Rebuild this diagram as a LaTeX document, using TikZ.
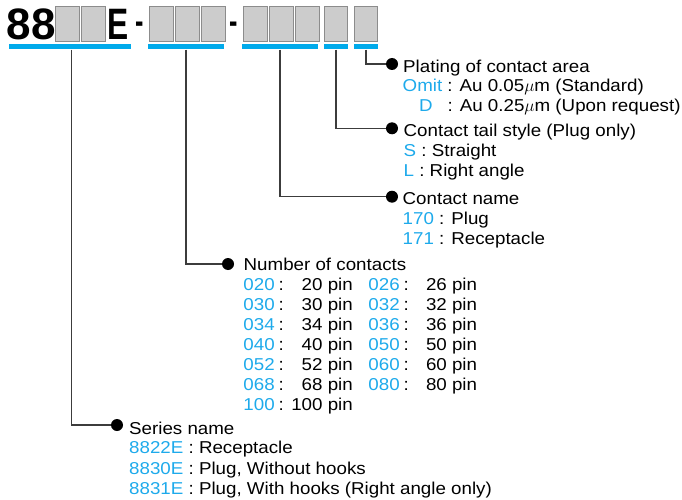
\documentclass[tikz,border=0pt]{standalone}
\usepackage{fontspec}
\setmainfont{Liberation Sans}[FakeStretch=1.09]
\newfontfamily\titlefont{Liberation Sans}
\usetikzlibrary{positioning}
\definecolor{codeblue}{RGB}{30,170,235}
\definecolor{barblue}{RGB}{0,170,235}
\definecolor{keygray}{RGB}{204,204,204}
\definecolor{keyedge}{RGB}{140,140,140}
\definecolor{leadgray}{RGB}{60,60,60}
\newcommand{\code}[1]{\textcolor{codeblue}{#1}}
\tikzset{
  keybox/.style={rectangle, fill=keygray, draw=keyedge, line width=0.8pt, minimum width=23.5pt, minimum height=35pt, inner sep=0pt,
    path picture={\draw[white, line width=1.2pt] (path picture bounding box.south west) |- (path picture bounding box.north east);}},
  bluebar/.style={rectangle, fill=barblue, minimum height=5pt, inner sep=0pt},
  lead/.style={leadgray, line width=1.2pt},
  bullet/.style={circle, fill=black, minimum size=12pt, inner sep=0pt},
  txt/.style={anchor=base west, inner sep=0pt, font=\fontsize{17.2}{20}\selectfont},
  bigtxt/.style={inner sep=0pt, font=\titlefont\bfseries\fontsize{44}{44}\selectfont},
}
\begin{document}
\begin{tikzpicture}[x=1pt, y=-1pt]
    \useasboundingbox (0,0) rectangle (682,500);
    % part number
    \node[bigtxt, anchor=base west] (num) at (6.5,40) {88};
    \node[keybox] (k1) at (67.5,24) {};
    \node[keybox, right=1.7pt of k1] (k2) {};
    \node[bigtxt, anchor=base west] (ser) at (107.7,40) {\scalebox{0.72}[1]{E}};
    \node[bigtxt, anchor=base, font=\titlefont\bfseries\fontsize{36}{36}\selectfont] (dash1) at (140,33.4) {\scalebox{0.7}[1]{-}};
    \node[keybox] (k3) at (161.5,24) {};
    \node[keybox, right=1.7pt of k3] (k4) {};
    \node[keybox, right=1.7pt of k4] (k5) {};
    \node[bigtxt, anchor=base, font=\titlefont\bfseries\fontsize{36}{36}\selectfont] (dash2) at (234,33.4) {\scalebox{0.7}[1]{-}};
    \node[keybox] (k6) at (255.5,24) {};
    \node[keybox, right=1.7pt of k6] (k7) {};
    \node[keybox, right=1.7pt of k7] (k8) {};
    \node[keybox] (k9) at (336,24) {};
    \node[keybox] (k10) at (366,24) {};

    \node[bluebar, minimum width=122pt] (bar1) at (70,47) {};
    \node[bluebar, minimum width=76pt] (bar2) at (186,47) {};
    \node[bluebar, minimum width=76pt] (bar3) at (280,47) {};
    \node[bluebar, minimum width=24pt] (bar4) at (336,47) {};
    \node[bluebar, minimum width=24pt] (bar5) at (366,47) {};

    % leads
    \node[bullet] (d5) at (392,64) {};
    \node[bullet] (d4) at (392,128.3) {};
    \node[bullet] (d3) at (392,196.7) {};
    \node[bullet] (d2) at (228,264) {};
    \node[bullet] (d1) at (117,425) {};
    \draw[lead] (bar5.south) |- (d5);
    \draw[lead] (bar4.south) |- (d4);
    \draw[lead] (bar3.south) |- (d3);
    \draw[lead] (bar2.south) |- (d2);
    \draw[lead] ([xshift=1.5pt]bar1.south) |- (d1);

    % plating
    \node[txt] (plating) at (403,72.3) {Plating of contact area};
    \node[txt] (omit) at (402.5,91.7) {\code{Omit} : Au 0.05$\mu$m (Standard)};
    \node[txt] (platD) at (419,111.7) {\code{D}};
    \node[txt] (platDtxt) at (447.5,111.7) {: Au 0.25$\mu$m (Upon request)};
    % tail
    \node[txt] (tail) at (403.5,136.7) {Contact tail style (Plug only)};
    \node[txt] (tailS) at (403.5,156.7) {\code{S} : Straight};
    \node[txt] (tailL) at (403.5,176.7) {\code{L} : Right angle};
    % contact name
    \node[txt] (cname) at (402.5,204) {Contact name};
    \node[txt] (c170) at (402.5,224.3) {\code{170} : Plug};
    \node[txt] (c171) at (402.5,244) {\code{171} : Receptacle};
    % number of contacts
    \node[txt] (ncont) at (243.5,270.7) {Number of contacts};
    \foreach \y/\ca/\pa/\cb/\pb in {290.7/020/20/026/26, 310.7/030/30/032/32, 330.7/034/34/036/36,
        350.7/040/40/050/50, 370.7/052/52/060/60, 390.7/068/68/080/80} {
        \node[txt] (code\ca) at (243.2,\y) {\code{\ca}};
        \node[txt] (colon\ca) at (278.3,\y) {:};
        \node[txt, anchor=base east] (pin\ca) at (353,\y) {\pa{} pin};
        \node[txt] (code\cb) at (368.2,\y) {\code{\cb}};
        \node[txt] (colon\cb) at (403.3,\y) {:};
        \node[txt, anchor=base east] (pin\cb) at (477.3,\y) {\pb{} pin};
    }
    \node[txt] (code100) at (243.2,410.7) {\code{100}};
    \node[txt] (colon100) at (278.3,410.7) {:};
    \node[txt, anchor=base east] (pin100) at (353,410.7) {100 pin};
    % series
    \node[txt] (series) at (129,434) {Series name};
    \node[txt] (s8822) at (129,453.3) {\code{8822E} : Receptacle};
    \node[txt] (s8830) at (129,474) {\code{8830E} : Plug, Without hooks};
    \node[txt] (s8831) at (129,494) {\code{8831E} : Plug, With hooks (Right angle only)};
\end{tikzpicture}
\end{document}
